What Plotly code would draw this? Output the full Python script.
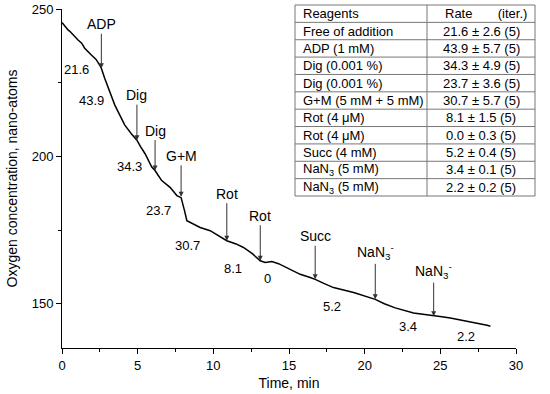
import plotly.graph_objects as go

# Oxygen trace (time, min ; oxygen, nano-atoms)
time_min = [0.0, 0.2, 0.40, 0.55, 0.73, 1.06, 1.30, 1.50, 1.94, 2.25, 2.49, 2.60, 2.82, 3.15,
            3.49, 3.82, 4.15, 4.58, 4.80, 4.95, 5.20, 5.49, 5.93, 6.15, 6.35, 6.59, 7.14,
            7.59, 7.87, 7.98, 8.10, 8.25, 8.50, 8.91, 9.13, 9.79, 10.30, 10.89, 11.50,
            11.99, 12.60, 13.10, 13.43, 13.87, 14.31, 15.08, 15.74, 16.40, 16.73, 17.30,
            17.94, 19.27, 20.70, 21.30, 22.02, 23.23, 24.56, 25.10, 25.66, 26.77, 27.40,
            28.09, 28.31]
oxygen = [245.4, 244.0, 242.9, 242.3, 241.2, 239.5, 238.4, 236.7, 234.4, 232.9, 231.0, 229.9,
          226.5, 221.9, 217.4, 214.0, 210.6, 207.7, 206.6, 205.5, 203.2, 200.9, 196.4, 195.2,
          193.6, 191.8, 189.5, 186.7, 186.0, 183.3, 181.5, 178.2, 177.5, 176.5, 175.9, 174.8,
          173.2, 171.4, 170.3, 169.1, 166.9, 164.6, 164.0, 164.3, 163.6, 161.7, 160.0, 158.9,
          158.3, 156.9, 155.5, 153.8, 151.5, 150.0, 148.6, 146.9, 145.8, 145.6, 145.2, 144.1,
          143.6, 142.7, 142.4]

# Additions (arrows)
add_labels = ["ADP", "Dig", "Dig", "G+M", "Rot", "Rot", "Succ",
              "NaN<sub>3</sub><sup>-</sup>", "NaN<sub>3</sub><sup>-</sup>"]
add_time = [2.60, 4.95, 6.15, 7.87, 10.89, 13.10, 16.73, 20.70, 24.56]
add_oxygen = [229.9, 205.5, 195.2, 186.3, 171.4, 164.6, 158.3, 151.5, 145.8]
add_offset = [-44, -45, -40, -41, -47, -45, -43, -47, -45]

# Rate labels along the trace
rate_labels = ["21.6", "43.9", "34.3", "23.7", "30.7", "8.1", "0", "5.2", "3.4", "2.2"]
rate_time = [0.97, 1.96, 4.49, 6.37, 8.31, 11.32, 13.6, 17.82, 22.89, 26.7]
rate_oxygen = [229.6, 219.1, 196.7, 181.8, 169.9, 162.1, 158.7, 149.2, 142.2, 138.8]

# Table
table_header = ["Reagents", "Rate\u00a0\u00a0\u00a0\u00a0\u00a0\u00a0\u00a0(iter.)"]
reagents = ["Free of addition", "ADP (1 mM)", "Dig (0.001 %)", "Dig (0.001 %)",
            "G+M (5 mM + 5 mM)", "Rot (4 \u03bcM)", "Rot (4 \u03bcM)", "Succ (4 mM)",
            "NaN<sub>3</sub> (5 mM)", "NaN<sub>3</sub> (5 mM)"]
rates = ["21.6 \u00b1 2.6 (5)", "43.9 \u00b1 5.7 (5)", "34.3 \u00b1 4.9 (5)", "23.7 \u00b1 3.6 (5)",
         "30.7 \u00b1 5.7 (5)", "8.1 \u00b1 1.5 (5)", "0.0 \u00b1 0.3 (5)", "5.2 \u00b1 0.4 (5)",
         "3.4 \u00b1 0.1 (5)", "2.2 \u00b1 0.2 (5)"]

FONT = "Liberation Sans, Arial, sans-serif"

# plot area in page pixels
PL, PR, PT, PB = 62, 516, 9, 348
PW, PH = PR - PL, PB - PT


def px_x(px):
    return (px - PL) / PW


def px_y(py):
    return (PB - py) / PH


fig = go.Figure()
fig.add_trace(go.Scatter(x=time_min, y=oxygen, mode="lines",
                         line=dict(color="black", width=1.5), showlegend=False,
                         hoverinfo="skip"))

for lab, t, o, off in zip(add_labels, add_time, add_oxygen, add_offset):
    fig.add_annotation(x=t, y=o, text=lab, showarrow=True, ax=0, ay=off,
                       arrowhead=2, arrowsize=1, arrowwidth=1, arrowcolor="#333",
                       font=dict(family=FONT, size=14, color="black"))

for lab, t, o in zip(rate_labels, rate_time, rate_oxygen):
    fig.add_annotation(x=t, y=o, text=lab, showarrow=False,
                       font=dict(family=FONT, size=13, color="black"))

# ---- table drawn with shapes + annotations (paper coordinates) ----
TX0, TX1, TXM = 295, 535, 427
TY0, TY1 = 5, 196
rows = [table_header] + [[a, b] for a, b in zip(reagents, rates)]
nrows = len(rows)
rh = (TY1 - TY0) / nrows
line_style = dict(color="#777", width=1)
fig.add_shape(type="rect", xref="paper", yref="paper",
              x0=px_x(TX0), x1=px_x(TX1), y0=px_y(TY1), y1=px_y(TY0),
              line=line_style, fillcolor="white", layer="above")
fig.add_shape(type="line", xref="paper", yref="paper",
              x0=px_x(TXM), x1=px_x(TXM), y0=px_y(TY1), y1=px_y(TY0), line=line_style)
for i in range(1, nrows):
    yy = px_y(TY0 + i * rh)
    fig.add_shape(type="line", xref="paper", yref="paper",
                  x0=px_x(TX0), x1=px_x(TX1), y0=yy, y1=yy, line=line_style)
for i, (left, right) in enumerate(rows):
    yc = px_y(TY0 + (i + 0.5) * rh)
    fig.add_annotation(xref="paper", yref="paper", x=px_x(TX0 + 6), y=yc,
                       xanchor="left", yanchor="middle", text=left, showarrow=False,
                       font=dict(family=FONT, size=13, color="black"))
    fig.add_annotation(xref="paper", yref="paper", x=px_x(486 if i == 0 else 481), y=yc,
                       xanchor="center", yanchor="middle", text=right, showarrow=False,
                       font=dict(family=FONT, size=13, color="black"))

axis_common = dict(showline=True, linecolor="black", linewidth=1, showgrid=False,
                   zeroline=False, ticks="outside", ticklen=5, tickcolor="black",
                   automargin=False,
                   tickfont=dict(family=FONT, size=13, color="black"))

fig.update_layout(
    width=550, height=394,
    margin=dict(l=PL, r=550 - PR, t=PT, b=394 - PB, autoexpand=False),
    paper_bgcolor="white", plot_bgcolor="white",
    font=dict(family=FONT, color="black"),
    xaxis=dict(range=[0, 30], dtick=5,
               minor=dict(dtick=2.5, ticks="outside", ticklen=3, tickcolor="black"),
               title=dict(text="Time, min", font=dict(family=FONT, size=14), standoff=6),
               **axis_common),
    yaxis=dict(range=[135, 250], tickvals=[150, 200, 250],
               minor=dict(tickvals=[175, 225], ticks="outside", ticklen=3, tickcolor="black"),
               title=dict(text="Oxygen concentration, nano-atoms",
                          font=dict(family=FONT, size=14), standoff=10),
               **axis_common),
)

fig.write_html("out.html", config={"displayModeBar": False},
               post_script="document.body.style.margin='0px';")
